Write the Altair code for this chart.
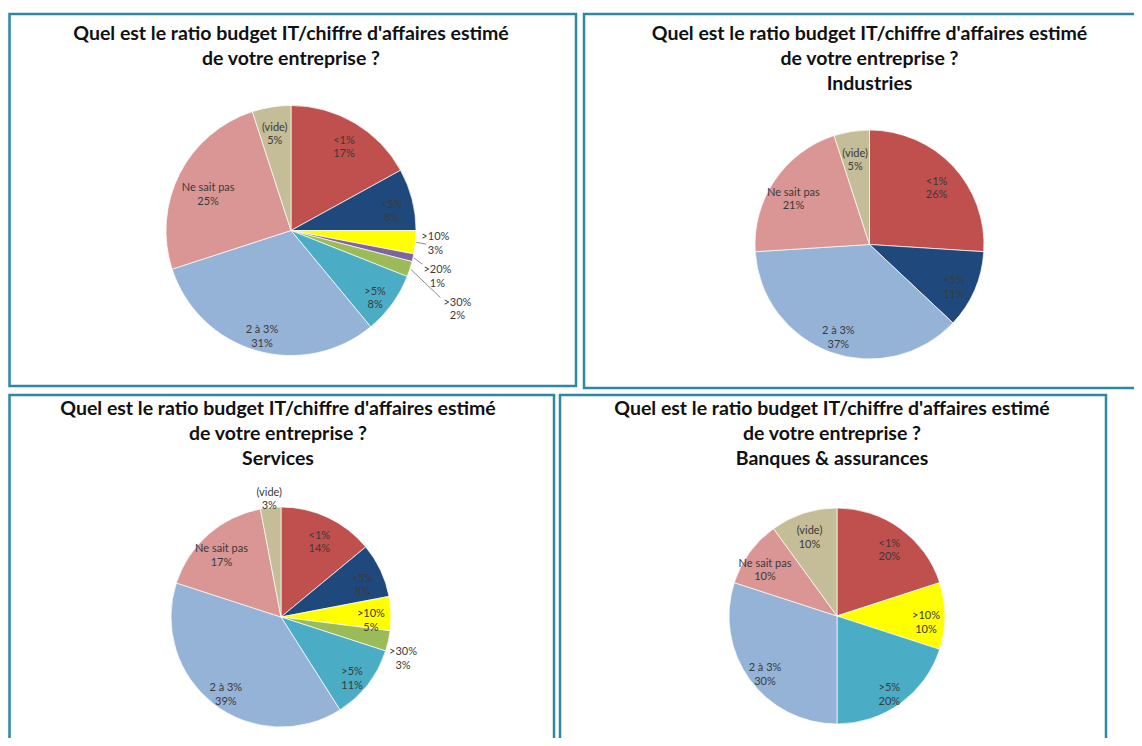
import altair as alt
import pandas as pd

# ---------------- data ----------------
CATEGORIES = ["<1%", "<5%", ">10%", ">20%", ">30%", ">5%", "2 à 3%", "Ne sait pas", "(vide)"]
COLORS = ["#C0504D", "#1F497D", "#FFFF00", "#8064A2", "#9BBB59", "#4BACC6", "#95B3D7", "#D99694", "#C4BD97"]

TITLE_LINES = ["Quel est le ratio budget IT/chiffre d'affaires estimé", "de votre entreprise ?"]
SUBTITLES = ["", "Industries", "Services", "Banques & assurances"]

ens_cats = ["<1%", "<5%", ">10%", ">20%", ">30%", ">5%", "2 à 3%", "Ne sait pas", "(vide)"]
ens_vals = [17, 8, 3, 1, 2, 8, 31, 25, 5]

ind_cats = ["<1%", "<5%", "2 à 3%", "Ne sait pas", "(vide)"]
ind_vals = [26, 11, 37, 21, 5]

srv_cats = ["<1%", "<5%", ">10%", ">30%", ">5%", "2 à 3%", "Ne sait pas", "(vide)"]
srv_vals = [14, 8, 5, 3, 11, 39, 17, 3]

bqa_cats = ["<1%", ">10%", ">5%", "2 à 3%", "Ne sait pas", "(vide)"]
bqa_vals = [20, 10, 20, 30, 10, 10]

# ---------------- layout / style ----------------
W, H = 1126, 730
BORDER = "#2E88A2"
FONT = "Lato"
LABEL_COLOR = "#3A3A3A"
LABEL_SIZE = 11

panels = [
    dict(cats=ens_cats, vals=ens_vals, sub=SUBTITLES[0], cx=283, cy=222.5, r=125, lr=104,
         tx=283, ty=32, box=(1.5, 6, 568, 378),
         special={">10%": (145, 0, -7), ">20%": (150, 0, 7), ">30%": (175, 0, 18), "Ne sait pas": (93, 0, 0)},
         leaders={">10%": (-9, 7), ">20%": (-15, -6), ">30%": (-17, -5)}),
    dict(cats=ind_cats, vals=ind_vals, sub=SUBTITLES[1], cx=861.5, cy=236.5, r=114.5, lr=92,
         tx=861.5, ty=32, box=(576, 6, 1140, 380), special={}, leaders={}),
    dict(cats=srv_cats, vals=srv_vals, sub=SUBTITLES[2], cx=273, cy=609, r=110, lr=90,
         tx=270, ty=407, box=(1.5, 387, 546, 760),
         special={"(vide)": (125, 0, 0), ">30%": (125, 0, 8)}, leaders={}),
    dict(cats=bqa_cats, vals=bqa_vals, sub=SUBTITLES[3], cx=829, cy=608, r=108, lr=89,
         tx=824, ty=407, box=(552, 387, 1098, 760), special={}, leaders={}),
]

cscale = alt.Scale(domain=CATEGORIES, range=COLORS)
layers = []

for p in panels:
    df = pd.DataFrame({"cat": p["cats"], "val": p["vals"]})
    df["ord"] = [CATEGORIES.index(c) for c in p["cats"]]
    df["label"] = [f"{c}\n{v}%" for c, v in zip(p["cats"], p["vals"])]
    cx, cy, r = p["cx"], p["cy"], p["r"]

    # border
    x1, y1, x2, y2 = p["box"]
    layers.append(
        alt.Chart(pd.DataFrame({"a": [0]})).mark_rect(fill="transparent", stroke=BORDER, strokeWidth=2.5)
        .encode(x=alt.value(x1), x2=alt.value(x2), y=alt.value(y1), y2=alt.value(y2))
    )

    # title
    title = "\n".join(TITLE_LINES + ([p["sub"]] if p["sub"] else []))
    layers.append(
        alt.Chart(pd.DataFrame({"t": [title]})).mark_text(
            font=FONT, fontWeight="bold", fontSize=19.5, lineBreak="\n", lineHeight=25,
            baseline="alphabetic", align="center", color="#111111")
        .encode(text="t:N", x=alt.value(p["tx"]), y=alt.value(p["ty"]))
    )

    enc = dict(theta=alt.Theta("val:Q", stack=True), order=alt.Order("ord:Q"),
               x=alt.value(cx), y=alt.value(cy))

    layers.append(
        alt.Chart(df).mark_arc(radius=r, stroke="white", strokeWidth=0.7)
        .encode(color=alt.Color("cat:N", scale=cscale, legend=None), **enc)
    )

    special = p["special"]
    cond = " && ".join(f"datum.cat != '{n}'" for n in special) or "true"
    layers.append(
        alt.Chart(df).transform_calculate(t=f"({cond}) ? datum.label : ''")
        .mark_text(radius=p["lr"], font=FONT, fontSize=LABEL_SIZE, lineBreak="\n", lineHeight=13.5,
                   baseline="middle", align="center", color=LABEL_COLOR)
        .encode(text="t:N", detail="cat:N", **enc)
    )
    for n, (rad, dx, dy) in special.items():
        layers.append(
            alt.Chart(df).transform_calculate(t=f"datum.cat == '{n}' ? datum.label : ''")
            .mark_text(radius=rad, dx=dx, dy=dy, font=FONT, fontSize=LABEL_SIZE, lineBreak="\n",
                       lineHeight=13.5, baseline="middle", align="center", color=LABEL_COLOR)
            .encode(text="t:N", detail="cat:N", **enc)
        )

    for n, (ex, ey) in p["leaders"].items():
        rad, dx, dy = special[n]
        layers.append(
            alt.Chart(df)
            .transform_joinaggregate(total="sum(val)")
            .transform_window(cum="sum(val)", sort=[alt.SortField("ord")], frame=[None, 0])
            .transform_calculate(mid="(datum.cum - datum.val / 2) / datum.total * 2 * PI")
            .transform_filter(alt.FieldOneOfPredicate(field="cat", oneOf=[n]))
            .transform_calculate(
                lx1=f"{cx} + {r + 1} * sin(datum.mid)",
                ly1=f"{cy} - {r + 1} * cos(datum.mid)",
                lx2=f"{cx} + {rad} * sin(datum.mid) + {dx} + {ex}",
                ly2=f"{cy} - {rad} * cos(datum.mid) + {dy} + {ey}",
            )
            .mark_rule(color="#7F7F7F", strokeWidth=0.9)
            .encode(x=alt.X("lx1:Q", scale=None, axis=None), y=alt.Y("ly1:Q", scale=None, axis=None),
                    x2="lx2:Q", y2="ly2:Q")
        )

chart = (
    alt.layer(*layers)
    .properties(width=W, height=H, padding=0, autosize=alt.AutoSizeParams(type="none"))
    .configure_view(stroke=None)
)

chart.save("out.html", embed_options={"renderer": "svg", "actions": False})
